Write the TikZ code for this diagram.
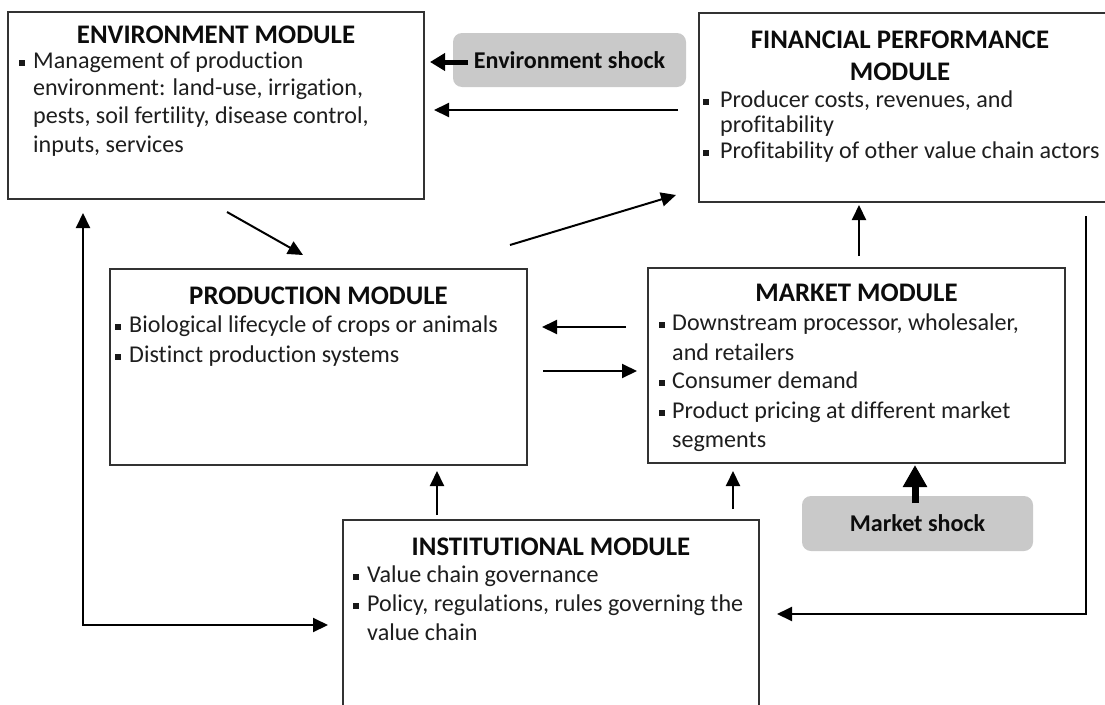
\documentclass[tikz,border=0pt]{standalone}
\usepackage{fontspec}
\setmainfont{Carlito}[Ligatures={NoCommon}]
\usetikzlibrary{arrows.meta}

\definecolor{boxline}{RGB}{50,50,50}
\definecolor{bodyink}{RGB}{30,30,30}
\definecolor{titleink}{RGB}{12,12,12}
\definecolor{shockfill}{RGB}{201,201,201}

\tikzset{
  modbox/.style={draw=boxline, line width=1.8pt, anchor=north west,
    inner sep=0pt, outer sep=0pt, fill=white},
  shockbox/.style={fill=shockfill, rounded corners=9pt, inner sep=0pt,
    outer sep=0pt, font=\fontsize{24.1}{28}\selectfont\bfseries, text=titleink},
  modtitle/.style={font=\fontsize{26.8}{31}\selectfont\bfseries, text=titleink,
    anchor=base, inner sep=0pt},
  modline/.style={font=\fontsize{24.1}{28.5}\selectfont, text=bodyink,
    anchor=base west, inner sep=0pt},
  bulletsq/.style={fill=black!90, minimum size=6pt, inner sep=0pt, outer sep=0pt},
  link/.style={draw=black, line width=2pt, -{Triangle[length=15pt,width=14pt]}},
  biglink/.style={draw=black, line width=2pt,
    {Triangle[length=15pt,width=14pt]}-{Triangle[length=15pt,width=14pt]}},
  envshockarrow/.style={draw=black, line width=5pt,
    -{Triangle[length=15pt,width=17pt]}},
  mktshockarrow/.style={draw=black, line width=7pt,
    -{Triangle[length=22pt,width=23pt]}},
}

\begin{document}
\begin{tikzpicture}[x=1pt, y=-1pt]
  \useasboundingbox (0,0) rectangle (1105,704);
  \fill[white] (0,0) rectangle (1105,704);
  \clip (0,0) rectangle (1105,704);

  % ---------- module boxes (the last two run past the page edge) ----------
  \node[modbox, minimum width=416pt, minimum height=187pt] (env)  at (8,12)   {};
  \node[modbox, minimum width=408pt, minimum height=189pt] (fin)  at (699,13) {};
  \node[modbox, minimum width=417pt, minimum height=196pt] (prod) at (110,269) {};
  \node[modbox, minimum width=417pt, minimum height=195pt] (mkt)  at (648,268) {};
  \node[modbox, minimum width=416pt, minimum height=240pt] (inst) at (343,520) {};

  % ---------- shock boxes ----------
  \node[shockbox, minimum width=233pt, minimum height=54pt] (eshock) at (569.5,60) {Environment shock};
  \node[shockbox, minimum width=231pt, minimum height=55pt] (mshock) at (917.5,523.5) {Market shock};

  % ---------- environment module ----------
  \node[modtitle] (envT) at (216,43.4) {ENVIRONMENT MODULE};
  \node[bulletsq] (envB1) at (21.5,63) {};
  \node[modline] (envL1) at (33,68.7)  {Management of production};
  \node[modline] (envL2) at (33,95.7)  {environment: land-use, irrigation,};
  \node[modline] (envL3) at (33,123.7) {pests, soil fertility, disease control,};
  \node[modline] (envL4) at (33,152.7) {inputs, services};

  % ---------- financial performance module ----------
  \node[modtitle] (finT1) at (900,48.4) {FINANCIAL PERFORMANCE};
  \node[modtitle] (finT2) at (900,80.4) {MODULE};
  \node[bulletsq] (finB1) at (706,102) {};
  \node[modline] (finL1) at (720,107.7) {Producer costs, revenues, and};
  \node[modline] (finL2) at (720,132.7) {profitability};
  \node[bulletsq] (finB2) at (706,153) {};
  \node[modline] (finL3) at (720,158.7) {Profitability of other value chain actors};

  % ---------- production module ----------
  \node[modtitle] (prodT) at (318.5,304) {PRODUCTION MODULE};
  \node[bulletsq] (prodB1) at (118,327) {};
  \node[modline] (prodL1) at (129,332.7) {Biological lifecycle of crops or animals};
  \node[bulletsq] (prodB2) at (118,357) {};
  \node[modline] (prodL2) at (129,362.7) {Distinct production systems};

  % ---------- market module ----------
  \node[modtitle] (mktT) at (856.5,301.4) {MARKET MODULE};
  \node[bulletsq] (mktB1) at (662,325) {};
  \node[modline] (mktL1) at (672,330.7) {Downstream processor, wholesaler,};
  \node[modline] (mktL2) at (672,360.7) {and retailers};
  \node[bulletsq] (mktB2) at (662,383) {};
  \node[modline] (mktL3) at (672,388.7) {Consumer demand};
  \node[bulletsq] (mktB3) at (662,413) {};
  \node[modline] (mktL4) at (672,418.7) {Product pricing at different market};
  \node[modline] (mktL5) at (672,447.7) {segments};

  % ---------- institutional module ----------
  \node[modtitle] (instT) at (551,555.4) {INSTITUTIONAL MODULE};
  \node[bulletsq] (instB1) at (356,577) {};
  \node[modline] (instL1) at (367,582.7) {Value chain governance};
  \node[bulletsq] (instB2) at (356,606) {};
  \node[modline] (instL2) at (367,611.7) {Policy, regulations, rules governing the};
  \node[modline] (instL3) at (367,640.7) {value chain};

  % ---------- connector end points ----------
  \coordinate (esTail)  at (468,62);
  \coordinate (esTip)   at (430,62);
  \coordinate (feTail)  at (678,110);
  \coordinate (feTip)   at (434,110);
  \coordinate (epTail)  at (227,212);
  \coordinate (epTip)   at (303,255);
  \coordinate (pfTail)  at (510,245);
  \coordinate (pfTip)   at (676,195);
  \coordinate (mfTail)  at (859,256);
  \coordinate (mfTip)   at (859,205);
  \coordinate (mpTail)  at (626,327);
  \coordinate (mpTip)   at (542,327);
  \coordinate (pmTail)  at (543,371);
  \coordinate (pmTip)   at (637,371);
  \coordinate (ipTail)  at (437,515);
  \coordinate (ipTip)   at (437,471);
  \coordinate (imTail)  at (733,509);
  \coordinate (imTip)   at (733,471);
  \coordinate (msTail)  at (915,503);
  \coordinate (msTip)   at (915,465);
  \coordinate (lpTop)   at (83,213);
  \coordinate (lpCorner) at (83,625);
  \coordinate (lpEnd)   at (328,625);
  \coordinate (rpTop)   at (1086,216);
  \coordinate (rpCorner) at (1086,614);
  \coordinate (rpEnd)   at (777,614);

  % ---------- connectors ----------
  \draw[envshockarrow] (esTail) -- (esTip);
  \draw[mktshockarrow] (msTail) -- (msTip);
  \draw[link] (feTail) -- (feTip);
  \draw[link] (epTail) -- (epTip);
  \draw[link] (pfTail) -- (pfTip);
  \draw[link] (mfTail) -- (mfTip);
  \draw[link] (mpTail) -- (mpTip);
  \draw[link] (pmTail) -- (pmTip);
  \draw[link] (ipTail) -- (ipTip);
  \draw[link] (imTail) -- (imTip);
  \draw[biglink] (lpTop) -- (lpCorner) -- (lpEnd);
  \draw[link] (rpTop) -- (rpCorner) -- (rpEnd);
\end{tikzpicture}
\end{document}
